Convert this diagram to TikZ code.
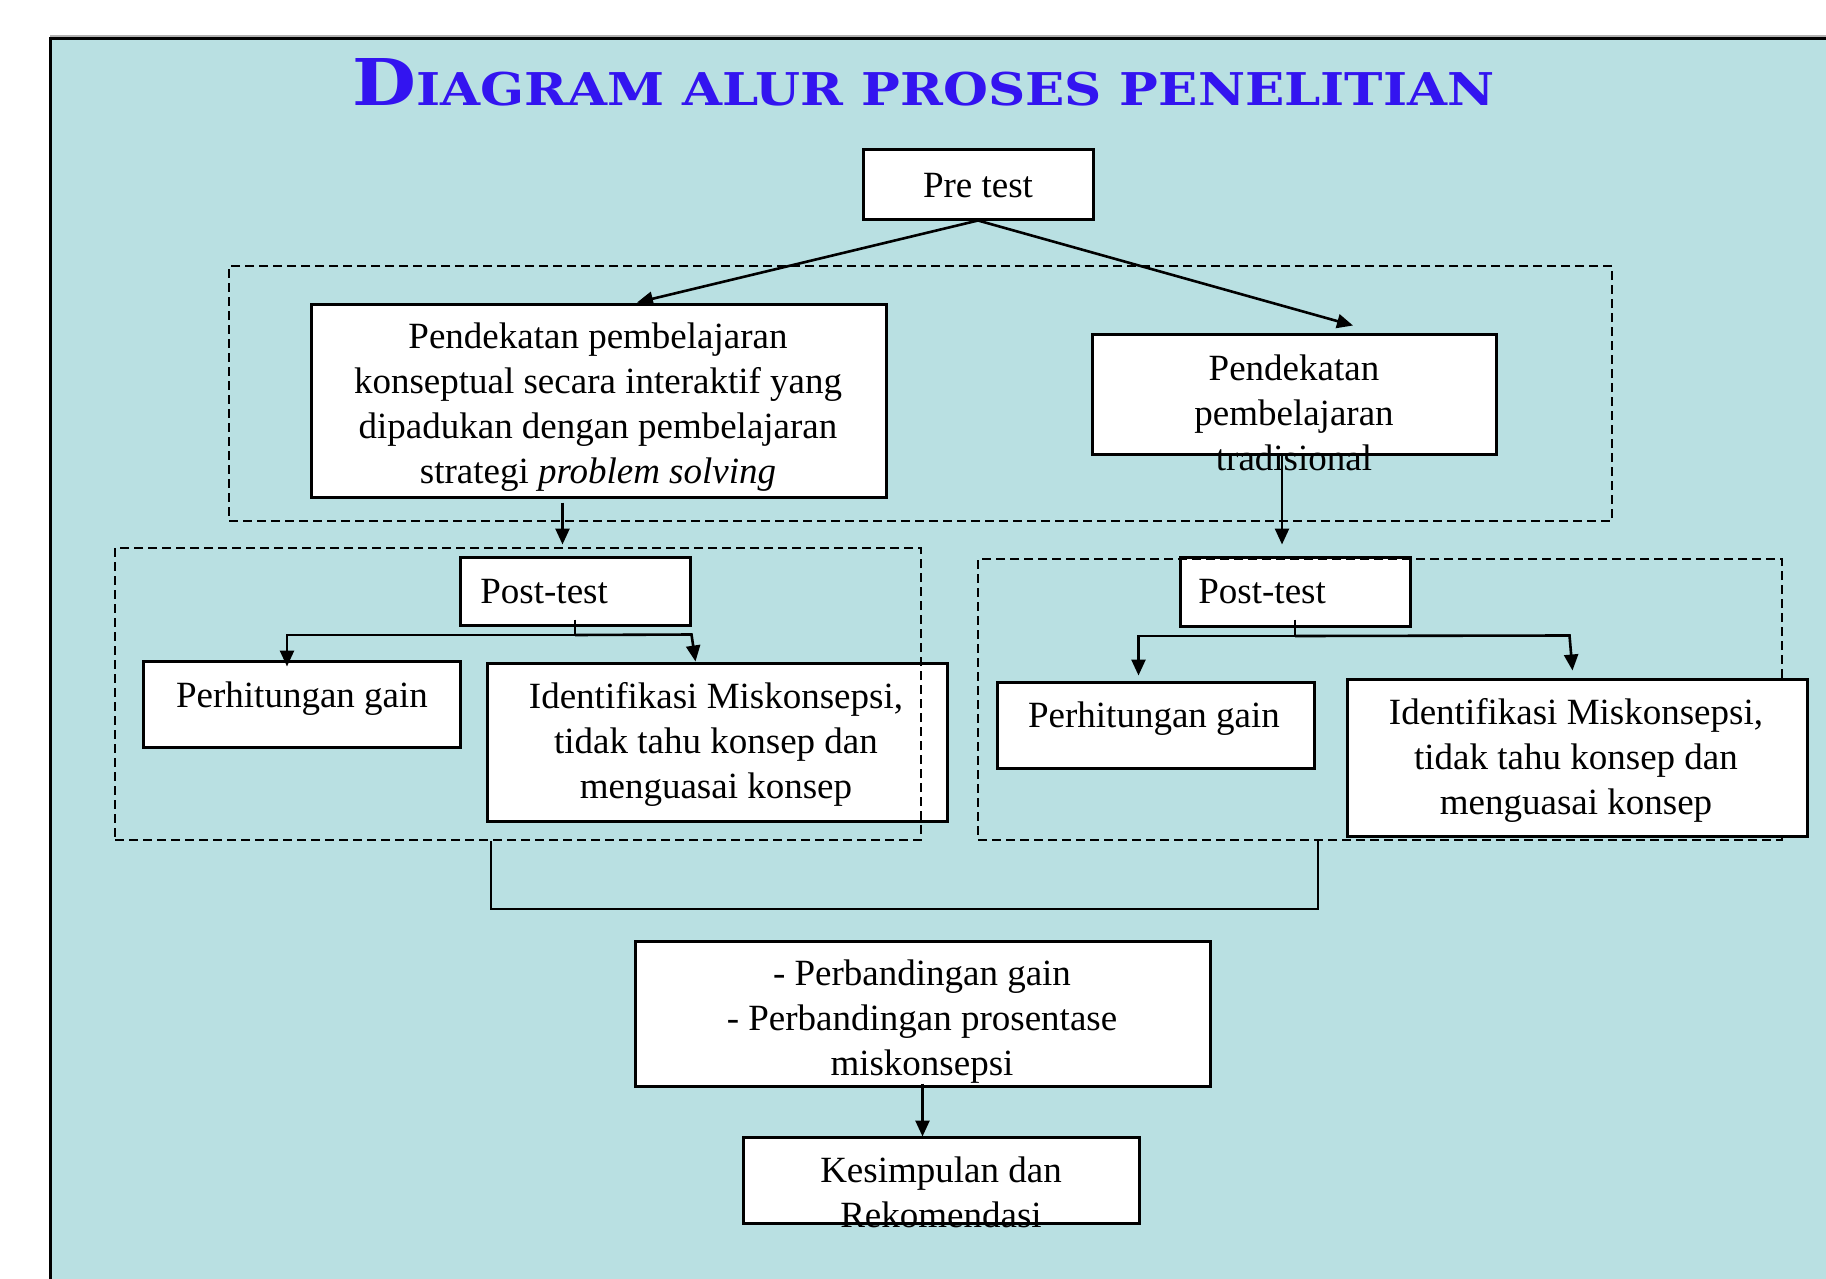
\documentclass[tikz,border=0pt]{standalone}
\usepackage{fontspec}
\usepackage{graphicx}
\setmainfont{Liberation Serif}
\newfontfamily\titlefont{DejaVu Serif}
\usetikzlibrary{arrows.meta,calc}
\definecolor{bgteal}{RGB}{185,224,226}
\definecolor{titleblue}{RGB}{51,20,240}
\newcommand{\mlines}[1]{\begin{tabular}[t]{@{}c@{}}#1\end{tabular}}
\begin{document}
\begin{tikzpicture}[x=0.5pt,y=-0.5pt,
  box/.style={draw=black, line width=1.5pt, fill=white, inner sep=0pt, rectangle},
  grp/.style={draw=black, line width=1.3pt, dash pattern=on 4.5pt off 2.5pt, inner sep=0pt, rectangle},
  txt/.style={inner sep=0pt, anchor=base, font=\fontsize{18.5pt}{22.5pt}\selectfont},
  conn/.style={draw=black, line width=1.3pt},
  arr/.style={conn, -{Triangle[length=8pt,width=7pt]}}]
\useasboundingbox (0,0) rectangle (1826,1279);
% panel
\fill[bgteal] (50,38) rectangle (1826,1279);
\draw[gray!60, line width=1pt] (50,36) -- (1826,36);
\draw[black, line width=1.5pt] (50,1279) -- (50,38.5) -- (1826,38.5);
% title
\node[anchor=base west, inner sep=0pt, text=titleblue] (title) at (352,105)
  {\resizebox{571pt}{23.5pt}{\titlefont\bfseries\fontsize{20pt}{20pt}\selectfont D\fontsize{14pt}{14pt}\selectfont IAGRAM ALUR PROSES PENELITIAN}};
% group 1
\node[grp, minimum width=691.5pt, minimum height=127.5pt] (d1) at (920.5,393.5) {};
\node[box, minimum width=115pt, minimum height=34.5pt] (pre) at (978,184.5) {};
\node[box, minimum width=287.5pt, minimum height=96.5pt] (l1) at (598.5,400.5) {};
\node[box, minimum width=202pt, minimum height=60pt] (r1) at (1294,394) {};
% left group
\node[box, minimum width=115pt, minimum height=34pt] (p1) at (575,591) {};
\node[box, minimum width=158.5pt, minimum height=43pt] (g1) at (301.5,704) {};
\node[box, minimum width=230pt, minimum height=79pt] (i1) at (717,742) {};
\node[grp, minimum width=403pt, minimum height=146pt] (d2) at (518,694) {};
% right group
\node[box, minimum width=115pt, minimum height=34.5pt] (p2) at (1295,591.5) {};
\node[box, minimum width=158.5pt, minimum height=43pt] (g2) at (1155.5,725) {};
\node[grp, minimum width=402pt, minimum height=140.5pt] (d3) at (1380,699.5) {};
\node[box, minimum width=230pt, minimum height=78.5pt] (i2) at (1577,757.5) {};
% bottom
\node[box, minimum width=287.5pt, minimum height=72.5pt] (cmp) at (922.5,1013.5) {};
\node[box, minimum width=198pt, minimum height=43pt] (kes) at (941,1180) {};
% texts
\node[txt] (pret) at (978,198) {Pre test};
\node[txt] (l1t) at (598,348) {\mlines{Pendekatan pembelajaran\\konseptual secara interaktif yang\\dipadukan dengan pembelajaran\\strategi \textit{problem solving}}};
\node[txt] (r1t) at (1294,380) {\mlines{Pendekatan\\pembelajaran\\tradisional}};
\node[txt, anchor=base west] (p1t) at (480,603) {Post-test};
\node[txt, anchor=base west] (p2t) at (1198,603) {Post-test};
\node[txt] (g1t) at (302,707) {Perhitungan gain};
\node[txt] (g2t) at (1154,727) {Perhitungan gain};
\node[txt] (i1t) at (716,708) {\mlines{Identifikasi Miskonsepsi,\\tidak tahu konsep dan\\menguasai konsep}};
\node[txt] (i2t) at (1576,724) {\mlines{Identifikasi Miskonsepsi,\\tidak tahu konsep dan\\menguasai konsep}};
\node[txt] (cmpt) at (922,985) {\mlines{- Perbandingan gain\\- Perbandingan prosentase\\miskonsepsi}};
\node[txt] (kest) at (941,1182) {\mlines{Kesimpulan dan\\Rekomendasi}};
% connectors
\draw[arr] (pre.south) -- ($(l1.north)+(38.5,0)$);
\draw[arr] (pre.south) -- ($(r1.north)+(59,-7)$);
\draw[arr] ($(l1.south)+(-36,4)$) -- ($(l1.south)+(-36,46)$);
\draw[arr] ($(r1.south)+(-12,0)$) -- ($(r1.south)+(-12,89)$);
% left post-test branch
\coordinate (b1) at (575,635);
\draw[conn] ($(p1.south)+(0,-7)$) -- (b1);
\draw[arr] (b1) -| ($(g1.north)+(-14.5,7)$);
\draw[arr] (b1) -- ($(i1.north)+(-25.5,-27)$) -- ($(i1.north)+(-21.5,0)$);
% right post-test branch
\coordinate (b2) at (1295,636);
\draw[conn] ($(p2.south)+(0,-8)$) -- (b2);
\draw[arr] (b2) -| ($(g2.north)+(-17,-5)$);
\draw[arr] (b2) -- ($(i2.north)+(-7.5,-42)$) -- ($(i2.north)+(-4.5,-7)$);
% merge
\coordinate (mL) at (491,909);
\coordinate (mR) at (1318,909);
\draw[conn] (mL |- d2.south) -- (mL) -- (mR) -- (mR |- d3.south);
\draw[arr] ($(cmp.south)+(0,-4)$) -- ($(cmp.south)+(0,49)$);
\end{tikzpicture}
\end{document}
